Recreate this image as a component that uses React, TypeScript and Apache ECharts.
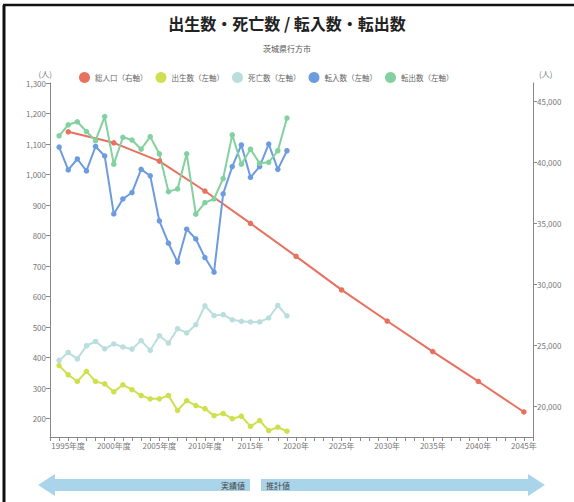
import React, { useEffect, useRef } from "react";
import * as echarts from "echarts";

const YEARS: number[] = [];
for (let y = 1993; y <= 2046; y++) YEARS.push(y);

const ACTUAL_YEARS = [
  1994, 1995, 1996, 1997, 1998, 1999, 2000, 2001, 2002, 2003, 2004, 2005, 2006,
  2007, 2008, 2009, 2010, 2011, 2012, 2013, 2014, 2015, 2016, 2017, 2018, 2019,
];
const births = [
  374, 344, 322, 355, 322, 314, 288, 311, 295, 276, 265, 265, 276, 227, 259, 243,
  233, 210, 217, 200, 208, 175, 194, 161, 172, 159,
];
const deaths = [
  391, 417, 396, 439, 453, 429, 445, 435, 428, 456, 424, 472, 448, 495, 481, 508,
  570, 538, 541, 524, 519, 517, 517, 530, 571, 537,
];
const movedIn = [
  1090, 1015, 1051, 1012, 1092, 1061, 871, 920, 941, 1017, 996, 848, 775, 713,
  821, 789, 728, 680, 937, 1026, 1097, 991, 1026, 1100, 1017, 1078,
];
const movedOut = [
  1127, 1163, 1173, 1141, 1111, 1190, 1034, 1122, 1113, 1083, 1124, 1068, 944,
  953, 1068, 870, 908, 920, 987, 1130, 1034, 1083, 1037, 1040, 1078, 1185,
];
const POP_YEARS = [1995, 2000, 2005, 2010, 2015, 2020, 2025, 2030, 2035, 2040, 2045];
const population = [
  42500, 41600, 40100, 37650, 35000, 32300, 29550, 27000, 24500, 22050, 19550,
];
const leftTicks = [200, 300, 400, 500, 600, 700, 800, 900, 1000, 1100, 1200, 1300];
const rightTicks = [20000, 25000, 30000, 35000, 40000, 45000];

const toSeries = (yrs: number[], vals: number[]) =>
  YEARS.map((y) => {
    const i = yrs.indexOf(y);
    return i >= 0 ? vals[i] : null;
  });

const FONT = "'Noto Sans CJK JP', 'Noto Sans', sans-serif";
const fmt = (v: number) => v.toLocaleString("en-US");

export default function App() {
  const ref = useRef<HTMLDivElement>(null);
  useEffect(() => {
    document.body.style.margin = "0";
    const chart = echarts.init(ref.current!, undefined, { renderer: "svg" });
    const line = (name: string, data: any[], color: string, yAxisIndex = 0) => ({
      name,
      type: "line",
      data,
      yAxisIndex,
      connectNulls: true,
      symbol: "circle",
      symbolSize: 5.5,
      showAllSymbol: true,
      lineStyle: { color, width: 2 },
      itemStyle: { color },
    });
    chart.setOption({
      animation: false,
      backgroundColor: "#ffffff",
      textStyle: { fontFamily: FONT },
      title: [
        {
          text: "出生数・死亡数 / 転入数・転出数",
          left: "center",
          top: 10,
          textStyle: { fontSize: 16, fontWeight: "bold", color: "#222", fontFamily: FONT },
        },
        {
          text: "茨城県行方市",
          left: "center",
          top: 39,
          textStyle: { fontSize: 8, fontWeight: "normal", color: "#555", fontFamily: FONT },
        },
      ],
      legend: {
        top: 67,
        left: 74,
        icon: "circle",
        itemWidth: 11,
        itemHeight: 11,
        itemGap: 8,
        textStyle: { fontSize: 7.5, color: "#666", fontFamily: FONT },
        data: ["総人口（右軸）", "出生数（左軸）", "死亡数（左軸）", "転入数（左軸）", "転出数（左軸）"],
      },
      grid: { left: 50, right: 41, top: 83, bottom: 65 },
      xAxis: {
        type: "category",
        data: YEARS.map(String),
        boundaryGap: false,
        axisLine: { lineStyle: { color: "#888" } },
        axisTick: { interval: 0, length: 4, lineStyle: { color: "#888" } },
        axisLabel: {
          interval: (_i: number, v: string) => Number(v) % 5 === 0,
          formatter: (v: string) => (Number(v) <= 2010 ? `${v}年度` : `${v}年`),
          fontSize: 8,
          color: "#777",
          margin: 4,
          fontFamily: FONT,
        },
        splitLine: { show: false },
      },
      yAxis: [
        {
          type: "value",
          min: 140,
          max: 1300,
          name: "(人)",
          nameLocation: "end",
          nameGap: 6,
          nameTextStyle: { fontSize: 8, color: "#777", align: "right", padding: [0, -2, 0, 0] },
          axisLine: { show: true, lineStyle: { color: "#888" } },
          axisTick: { show: true, length: 4, customValues: leftTicks, lineStyle: { color: "#888" } },
          axisLabel: {
            customValues: leftTicks,
            formatter: (v: number) => fmt(v),
            fontSize: 8,
            color: "#777",
            margin: 4,
            fontFamily: FONT,
          },
          splitLine: { show: false },
        },
        {
          type: "value",
          min: 17500,
          max: 46500,
          name: "(人)",
          nameLocation: "end",
          nameGap: 6,
          nameTextStyle: { fontSize: 8, color: "#777", align: "left", padding: [0, 0, 0, 6] },
          axisLine: { show: true, lineStyle: { color: "#888" } },
          axisTick: { show: true, length: 4, customValues: rightTicks, lineStyle: { color: "#888" } },
          axisLabel: {
            customValues: rightTicks,
            formatter: (v: number) => fmt(v),
            fontSize: 8,
            color: "#777",
            margin: 4,
            fontFamily: FONT,
          },
          splitLine: { show: false },
        },
      ],
      series: [
        line("総人口（右軸）", toSeries(POP_YEARS, population), "#e8705f", 1),
        line("出生数（左軸）", toSeries(ACTUAL_YEARS, births), "#cfe04f"),
        line("死亡数（左軸）", toSeries(ACTUAL_YEARS, deaths), "#b9dedd"),
        line("転入数（左軸）", toSeries(ACTUAL_YEARS, movedIn), "#6d9be0"),
        line("転出数（左軸）", toSeries(ACTUAL_YEARS, movedOut), "#82d19e"),
      ],
      graphic: [
        { type: "line", shape: { x1: 3, y1: 5, x2: 574, y2: 5 }, style: { stroke: "#111", lineWidth: 2.5 } },
        { type: "line", shape: { x1: 4, y1: 5, x2: 4, y2: 502 }, style: { stroke: "#111", lineWidth: 3 } },
        {
          type: "polygon",
          shape: { points: [[38, 485], [55, 474], [55, 479], [250, 479], [250, 491], [55, 491], [55, 496]] },
          style: { fill: "#a9d4ea" },
        },
        {
          type: "polygon",
          shape: { points: [[261, 479], [528, 479], [528, 474], [545, 485], [528, 496], [528, 491], [261, 491]] },
          style: { fill: "#a9d4ea" },
        },
        {
          type: "text",
          x: 245,
          y: 485,
          style: { text: "実績値", fontSize: 8, fill: "#444", align: "right", verticalAlign: "middle", fontFamily: FONT },
        },
        {
          type: "text",
          x: 266,
          y: 485,
          style: { text: "推計値", fontSize: 8, fill: "#444", align: "left", verticalAlign: "middle", fontFamily: FONT },
        },
      ],
    });
    return () => chart.dispose();
  }, []);
  return <div ref={ref} style={{ width: 574, height: 502 }} />;
}
